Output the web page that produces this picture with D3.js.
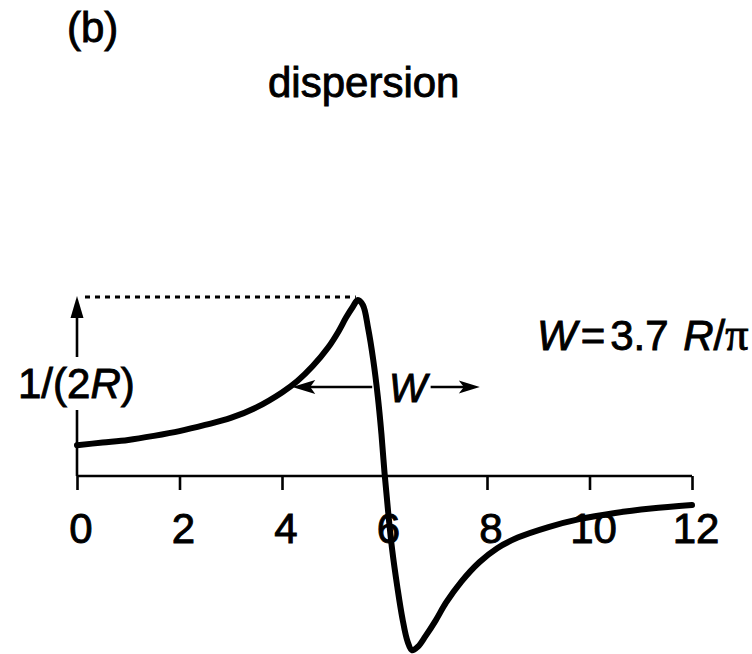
<!DOCTYPE html>
<html>
<head>
<meta charset="utf-8">
<script src="https://cdn.jsdelivr.net/npm/d3@7"></script>
<style>
  html, body { margin: 0; padding: 0; background: #fff; }
  svg { display: block; }
  text { font-family: "Liberation Sans", Arial, Helvetica, sans-serif; fill: #000;
         stroke: #000; stroke-width: 0.9px; }
</style>
</head>
<body>
<script>
// Detuning axis (tick values) and the dispersion line shape, normalised so
// that the extremes sit at ±1/(2R).
const xTicks = [0, 2, 4, 6, 8, 10, 12];
const detuning = [0, 0.5, 1, 1.5, 2, 2.5, 3, 3.5, 4, 4.3, 4.6, 4.9, 5.1, 5.25, 5.38, 5.48,
  5.58, 5.68, 5.78, 5.87, 5.94, 6.0, 6.07, 6.15, 6.25, 6.35, 6.45, 6.54, 6.65, 6.8,
  7.0, 7.2, 7.5, 7.85, 8.2, 8.6, 9.2, 9.8, 10.5, 11.2, 12];
const response = [0.175, 0.19, 0.205, 0.228, 0.255, 0.29, 0.33, 0.39, 0.475, 0.54, 0.625,
  0.73, 0.82, 0.9, 0.96, 1.0, 0.97, 0.84, 0.66, 0.45, 0.24, 0.02, -0.2, -0.42, -0.63,
  -0.81, -0.94, -0.99, -0.97, -0.91, -0.82, -0.72, -0.6, -0.49, -0.41, -0.35, -0.29,
  -0.245, -0.21, -0.185, -0.165];
const peakIndex = 15;     // maximum of the curve, value 1/(2R)
const halfLevel = 0.5;    // level where the width W is marked

const W = 752, H = 654;
const svg = d3.select("body").append("svg").attr("width", W).attr("height", H);
svg.append("rect").attr("width", W).attr("height", H).attr("fill", "#fff");

const x = d3.scaleLinear().domain([0, 12]).range([77, 692]);
const y = d3.scaleLinear().domain([0, 1]).range([476, 300]);

// Horizontal axis with downward ticks
const axis = d3.axisBottom(x).tickValues(xTicks).tickSize(14).tickPadding(0).tickFormat(() => "");
const gAxis = svg.append("g").attr("transform", `translate(0,${y(0)})`).call(axis);
gAxis.select(".domain").attr("stroke", "#000").attr("stroke-width", 2.6).attr("d", `M${x(0)},0H${x(12)}`);
gAxis.selectAll(".tick line").attr("stroke", "#000").attr("stroke-width", 2.6);

// Tick labels
svg.append("g").selectAll("text").data(xTicks).join("text")
  .attr("x", d => x(d) + 4)
  .attr("y", 543)
  .attr("text-anchor", "middle")
  .attr("font-size", 42)
  .text(d => d);

// Vertical arrow marking the peak height, broken around its label
const peakY = y(response[peakIndex]) - 3;
svg.append("line").attr("x1", x(0)).attr("x2", x(0)).attr("y1", y(0)).attr("y2", 410)
  .attr("stroke", "#000").attr("stroke-width", 2.6);
svg.append("line").attr("x1", x(0)).attr("x2", x(0)).attr("y1", 357).attr("y2", peakY + 18)
  .attr("stroke", "#000").attr("stroke-width", 2.6);
svg.append("path")
  .attr("d", `M${x(0)},${peakY - 1} L${x(0) + 6.5},${peakY + 21} L${x(0) - 6.5},${peakY + 21} Z`)
  .attr("fill", "#000");

// Dotted guide from the axis arrow to the peak
svg.append("line")
  .attr("x1", x(0) + 8).attr("x2", x(detuning[peakIndex]) - 2)
  .attr("y1", peakY).attr("y2", peakY)
  .attr("stroke", "#000").attr("stroke-width", 3).attr("stroke-dasharray", "5,5");

// Peak-height label 1/(2R)
const lab = svg.append("text").attr("x", 18).attr("y", 398).attr("font-size", 42);
lab.append("tspan").text("1/(2");
lab.append("tspan").attr("font-style", "italic").text("R");
lab.append("tspan").text(")");

// Dispersion curve
const pts = detuning.map((d, i) => [d, response[i]]);
const line = d3.line().x(d => x(d[0])).y(d => y(d[1])).curve(d3.curveCatmullRom.alpha(0.5));
svg.append("path").attr("d", line(pts)).attr("fill", "none")
  .attr("stroke", "#000").attr("stroke-width", 6)
  .attr("stroke-linejoin", "round").attr("stroke-linecap", "round");

// Width marker: arrows either side of the label W
const yW = y(halfLevel) - 1;
const leftTip = x(4.2), leftEnd = x(5.76);
svg.append("line").attr("x1", leftTip + 15).attr("x2", leftEnd).attr("y1", yW).attr("y2", yW)
  .attr("stroke", "#000").attr("stroke-width", 2.6);
svg.append("path")
  .attr("d", `M${leftTip},${yW} L${leftTip + 23},${yW - 7} L${leftTip + 18},${yW} L${leftTip + 23},${yW + 7} Z`)
  .attr("fill", "#000");
svg.append("text").attr("x", 389).attr("y", 402).attr("font-size", 40)
  .attr("font-style", "italic").text("W");
const rightStart = x(6.9), rightTip = x(7.86);
svg.append("line").attr("x1", rightStart).attr("x2", rightTip - 12).attr("y1", yW).attr("y2", yW)
  .attr("stroke", "#000").attr("stroke-width", 2.6);
svg.append("path")
  .attr("d", `M${rightTip},${yW} L${rightTip - 21},${yW - 6.5} L${rightTip - 16},${yW} L${rightTip - 21},${yW + 6.5} Z`)
  .attr("fill", "#000");

// Width formula
const f = svg.append("text").attr("x", 537).attr("y", 350).attr("font-size", 42);
f.append("tspan").attr("font-style", "italic").text("W");
f.append("tspan").attr("dx", 4).text("=");
f.append("tspan").attr("dx", 5).text("3.7 ");
f.append("tspan").attr("dx", 3).attr("font-style", "italic").text("R");
f.append("tspan").text("/");
f.append("tspan").attr("font-family", "'Liberation Serif', 'DejaVu Serif', serif").attr("font-size", 46).text("π");

// Panel label and title
svg.append("text").attr("x", 67).attr("y", 42).attr("font-size", 42).text("(b)");
svg.append("text").attr("x", 268).attr("y", 97).attr("font-size", 42).text("dispersion");
</script>
</body>
</html>
